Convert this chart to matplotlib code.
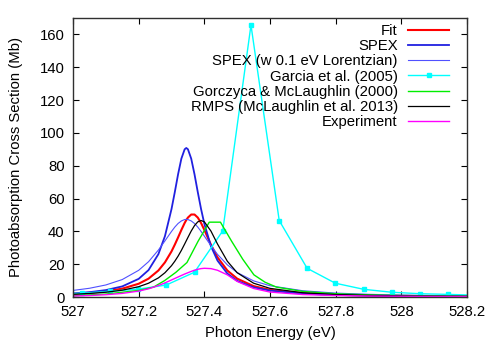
import matplotlib
matplotlib.use("Agg")
import matplotlib.pyplot as plt

plt.rcParams['font.family'] = ['Liberation Sans', 'DejaVu Sans']
plt.rcParams['font.size'] = 10.7

# shared energy grid for the smooth curves (eV)
energy = [527.00, 527.05, 527.10, 527.15, 527.20, 527.23, 527.26, 527.28, 527.30, 527.31,
          527.32, 527.33, 527.34, 527.345, 527.35, 527.36, 527.37, 527.38, 527.39, 527.40, 527.42,
          527.44, 527.47, 527.50, 527.55, 527.60, 527.70, 527.80, 527.90, 528.00, 528.10, 528.20]

fit = [1.89, 2.51, 3.47, 5.09, 8.08, 11.18, 16.15, 21.1, 27.8, 31.9,
       36.3, 40.85, 45.1, 46.9, 48.4, 50.26, 50.26, 48.4, 45.1, 40.85, 31.9,
       24.2, 16.15, 11.18, 6.64, 4.33, 2.23, 1.35, 0.90, 0.64, 0.48, 0.37]

spex = [2.17, 2.94, 4.21, 6.47, 11.06, 16.4, 26.1, 37.1, 53.6, 63.9,
        74.8, 84.3, 90.0, 90.8, 90.0, 84.3, 74.8, 63.9, 53.6, 44.6, 31.0,
        22.2, 14.3, 9.83, 5.89, 3.90, 2.05, 1.26, 0.85, 0.61, 0.46, 0.36]

spex_lor = [4.01, 5.32, 7.34, 10.64, 16.27, 21.5, 28.6, 34.2, 39.95, 42.6,
            44.8, 46.35, 47.2, 47.3, 47.2, 46.35, 44.8, 42.6, 39.95, 37.1, 31.3,
            26.0, 19.6, 14.9, 9.83, 6.86, 3.81, 2.39, 1.64, 1.19, 0.90, 0.70]

rmps = [1.66, 2.16, 2.92, 4.15, 6.28, 8.40, 11.64, 14.79, 19.1, 21.8,
        24.9, 28.4, 32.3, 34.3, 36.3, 40.2, 43.5, 45.8, 46.6, 45.8, 40.2,
        32.3, 21.8, 14.79, 8.40, 5.27, 2.58, 1.51, 0.99, 0.69, 0.51, 0.40]

experiment = [0.6, 0.9, 1.4, 2.2, 3.6, 5.0, 7.0, 8.6, 10.4, 11.3,
              12.2, 13.1, 14.0, 14.4, 14.8, 15.6, 16.3, 16.9, 17.3, 17.5, 17.3,
              16.3, 13.5, 9.5, 5.2, 3.0, 1.5, 0.9, 0.6, 0.45, 0.35, 0.3]

# Garcia et al. (2005) points
garcia_e = [526.941, 527.027, 527.113, 527.199, 527.284, 527.370, 527.456, 527.542, 527.628,
            527.713, 527.799, 527.885, 527.971, 528.057, 528.143, 528.229]
garcia_v = [1.8, 2.3, 3.5, 4.8, 7.3, 15.1, 40.3, 165.7, 46.6,
            17.5, 8.4, 4.7, 2.9, 2.0, 1.6, 1.1]

# Gorczyca & McLaughlin (2000)
gorczyca_e = [527.0, 527.1, 527.2, 527.245, 527.279, 527.313, 527.347, 527.381, 527.415, 527.449,
              527.483, 527.517, 527.551, 527.585, 527.62, 527.7, 527.8, 527.9, 528.0, 528.1, 528.2]
gorczyca_v = [0.8, 1.8, 4.0, 6.0, 10.0, 15.0, 21.0, 34.0, 45.6, 45.6,
              34.0, 23.0, 13.5, 9.0, 6.0, 3.4, 2.0, 1.3, 0.9, 0.7, 0.5]

xticks = [527, 527.2, 527.4, 527.6, 527.8, 528, 528.2]
xticklabels = ['527', '527.2', '527.4', '527.6', '527.8', '528', '528.2']
yticks = [0, 20, 40, 60, 80, 100, 120, 140, 160]

fig = plt.figure(figsize=(4.94, 3.46), dpi=100)
ax = fig.add_axes([0.1478, 0.1416, 0.7976, 0.8064])

ax.plot(energy, fit, color='#ff0000', linewidth=1.5, label='Fit')
ax.plot(energy, spex, color='#2020e0', linewidth=1.3, label='SPEX')
ax.plot(energy, spex_lor, color='#5050ff', linewidth=0.8, label='SPEX (w 0.1 eV Lorentzian)')
ax.plot(garcia_e, garcia_v, color='#00ffff', linewidth=1.0, marker='s', markersize=3.5,
        label='Garcia et al. (2005)')
ax.plot(gorczyca_e, gorczyca_v, color='#00ee00', linewidth=1.0, label='Gorczyca & McLaughlin (2000)')
ax.plot(energy, rmps, color='black', linewidth=0.9, label='RMPS (McLaughlin et al. 2013)')
ax.plot(energy, experiment, color='#ff00ff', linewidth=1.0, label='Experiment')

ax.set_xlim(527, 528.2)
ax.set_ylim(0, 170)
ax.set_xticks(xticks)
ax.set_xticklabels(xticklabels)
ax.set_yticks(yticks)
ax.tick_params(direction='in', top=True, right=True, length=4, width=0.8, pad=6)
for s in ax.spines.values():
    s.set_linewidth(1.0)
    s.set_color('#303030')

ax.set_xlabel('Photon Energy (eV)', labelpad=5)
ax.set_ylabel('Photoabsorption Cross Section (Mb)', labelpad=12)

ax.legend(loc='upper right', bbox_to_anchor=(449 / 494, 1 - 24 / 346),
          bbox_transform=fig.transFigure, frameon=False, markerfirst=False,
          handlelength=2.75, handletextpad=0.7, labelspacing=0.08,
          borderpad=0, borderaxespad=0)

fig.savefig('out.png', dpi=100)
